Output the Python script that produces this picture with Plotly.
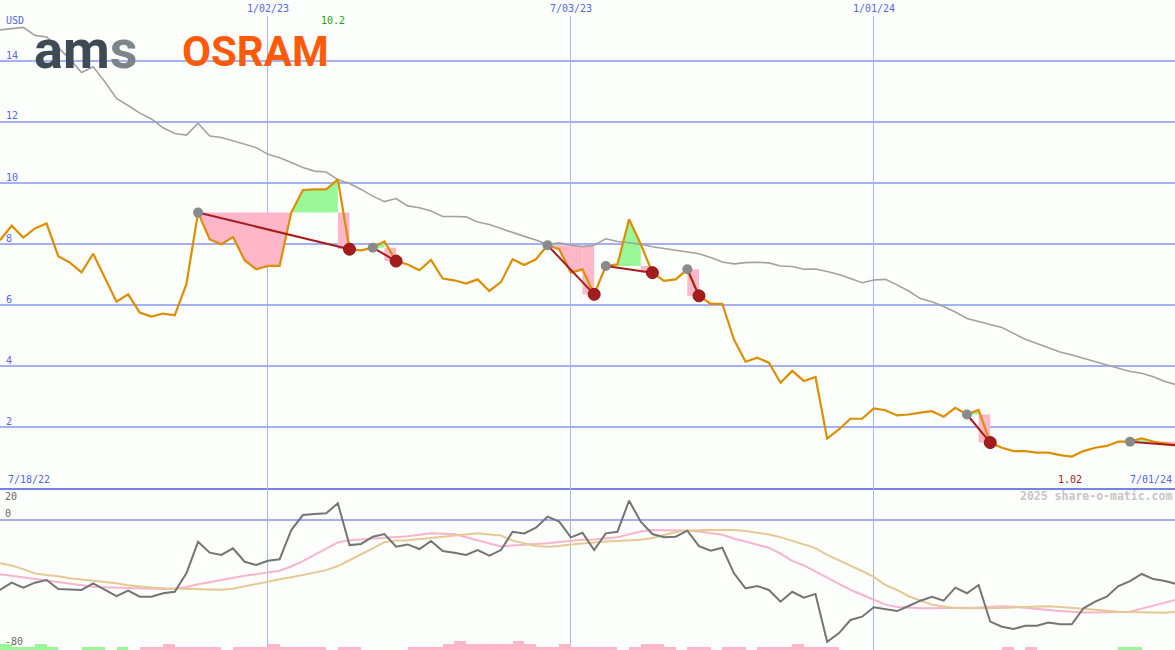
import pandas as pd
import plotly.graph_objects as go

# ---------------- data (weekly) ----------------
price = [8.12, 8.60, 8.21, 8.51, 8.67, 7.60, 7.39, 7.07, 7.68, 6.90,
         6.11, 6.35, 5.75, 5.62, 5.72, 5.66, 6.68, 9.03, 8.15, 7.99,
         8.23, 7.47, 7.17, 7.28, 7.28, 9.03, 9.77, 9.79, 9.79, 10.12,
         7.83, 7.79, 7.88, 8.08, 7.44, 7.33, 7.14, 7.48, 6.87, 6.81,
         6.70, 6.84, 6.46, 6.75, 7.50, 7.31, 7.50, 7.96, 7.83, 7.06,
         7.17, 6.35, 7.28, 7.33, 8.81, 7.99, 7.06, 6.79, 6.84, 7.17,
         6.30, 6.04, 6.04, 4.87, 4.14, 4.27, 4.11, 3.45, 3.84, 3.51,
         3.64, 1.62, 1.92, 2.27, 2.27, 2.61, 2.55, 2.38, 2.41, 2.47,
         2.52, 2.34, 2.63, 2.41, 2.56, 1.49, 1.32, 1.21, 1.21, 1.16,
         1.16, 1.08, 1.03, 1.21, 1.32, 1.38, 1.52, 1.52, 1.63, 1.52,
         1.47, 1.40]

avg40 = [15.02, 15.07, 15.10, 14.84, 14.79, 14.44, 14.06, 13.62, 13.81, 13.32,
         12.77, 12.54, 12.29, 12.10, 11.81, 11.62, 11.57, 11.96, 11.54, 11.49,
         11.38, 11.25, 11.16, 10.94, 10.83, 10.67, 10.51, 10.39, 10.36, 10.11,
         9.98, 9.79, 9.57, 9.39, 9.49, 9.25, 9.19, 9.08, 8.90, 8.90,
         8.89, 8.72, 8.64, 8.51, 8.37, 8.25, 8.13, 7.99, 8.04, 7.96,
         7.91, 7.96, 8.17, 8.08, 8.04, 7.99, 7.91, 7.85, 7.80, 7.75,
         7.68, 7.56, 7.41, 7.35, 7.39, 7.40, 7.38, 7.28, 7.26, 7.17,
         7.18, 7.10, 7.00, 6.87, 6.73, 6.82, 6.84, 6.66, 6.46, 6.21,
         6.11, 5.95, 5.77, 5.56, 5.46, 5.37, 5.26, 5.07, 4.88, 4.74,
         4.60, 4.46, 4.36, 4.25, 4.14, 4.03, 3.92, 3.82, 3.76, 3.65,
         3.49, 3.38]

osc = [-42.4, -38.0, -41.0, -38.0, -36.4, -41.8, -42.1, -42.4, -38.4, -42.4,
       -46.1, -42.8, -46.5, -46.5, -44.4, -43.5, -32.3, -13.2, -19.8, -21.2,
       -17.2, -25.3, -27.3, -24.7, -23.8, -6.1, 3.0, 3.6, 4.1, 10.1,
       -15.2, -14.5, -10.1, -8.5, -16.2, -14.8, -17.6, -12.7, -18.8, -19.8,
       -21.2, -18.2, -21.6, -18.2, -7.1, -8.1, -4.7, 2.0, -1.0, -10.5,
       -7.7, -18.2, -8.1, -7.1, 11.7, -1.0, -8.5, -10.5, -10.1, -6.5,
       -15.8, -18.6, -16.8, -32.3, -41.4, -40.0, -42.4, -49.5, -43.5, -47.1,
       -44.8, -73.8, -68.7, -60.6, -58.6, -52.9, -54.1, -55.2, -52.1, -48.9,
       -46.5, -48.9, -41.0, -44.4, -39.4, -61.6, -64.7, -66.1, -64.1, -64.1,
       -62.2, -63.2, -63.2, -53.5, -49.5, -46.5, -40.0, -37.0, -32.7, -35.8,
       -37.0, -38.8]

osc_fast = [-32.9, -33.8, -34.7, -35.6, -36.7, -37.6, -38.7, -39.6, -40.4, -40.7,
            -41.0, -41.2, -41.4, -41.6, -41.8, -41.6, -40.6, -39.0, -37.6, -36.2,
            -34.8, -33.8, -32.8, -31.8, -30.7, -28.2, -24.9, -21.1, -17.1, -13.6,
            -12.2, -11.7, -11.3, -10.7, -10.5, -9.9, -9.0, -8.1, -8.3, -8.5,
            -10.4, -12.4, -14.4, -16.1, -15.4, -15.0, -14.8, -14.1, -13.3, -12.5,
            -12.0, -11.8, -11.3, -10.4, -8.7, -7.0, -6.1, -6.1, -6.1, -6.3,
            -7.0, -7.9, -8.9, -11.2, -13.1, -14.9, -16.8, -20.4, -24.8, -27.5,
            -31.2, -35.4, -39.0, -42.4, -45.3, -48.2, -51.3, -52.7, -53.2, -53.5,
            -53.5, -53.5, -53.3, -53.2, -53.0, -52.5, -52.2, -52.5, -53.3, -54.0,
            -54.6, -55.2, -55.8, -56.1, -56.0, -55.8, -55.7, -55.6, -53.7, -51.8,
            -49.9, -48.2]

osc_slow = [-26.2, -27.6, -29.8, -32.4, -33.4, -34.1, -35.3, -36.1, -36.7, -37.4,
            -38.4, -39.5, -40.4, -40.9, -41.3, -41.6, -41.8, -41.8, -42.1, -42.3,
            -41.7, -40.2, -38.7, -37.2, -35.9, -34.7, -33.5, -31.9, -30.4, -27.9,
            -24.4, -20.9, -17.2, -13.4, -12.4, -12.2, -11.5, -10.8, -9.9, -9.4,
            -8.8, -8.1, -8.8, -9.4, -12.5, -14.3, -15.8, -16.2, -15.8, -14.8,
            -14.1, -13.3, -13.0, -12.7, -12.2, -11.9, -10.9, -9.2, -7.3, -6.4,
            -6.1, -6.1, -6.1, -6.1, -6.7, -7.6, -8.8, -10.4, -12.5, -14.7,
            -17.0, -21.2, -24.4, -27.4, -30.9, -34.5, -39.4, -42.4, -46.2, -48.8,
            -51.3, -52.4, -53.4, -53.5, -53.5, -53.5, -53.3, -53.0, -52.7, -52.4,
            -52.2, -52.7, -53.1, -53.8, -54.4, -55.2, -55.6, -55.8, -55.9, -56.1,
            -56.2, -55.5]

# signed strength bars (+ green, - pink)
strength = [2, 1, 1, 2, 1, 0, 0, 1, 1, 0,
            1, 0, -1, -1, -2, -1, -1, -1, -1, 0,
            -1, -1, -1, -2, -1, -1, -1, -1, 0, -1,
            -1, 0, 0, 0, 0, -1, -1, -1, -2, -3,
            -2, -2, -2, -2, -3, -2, -1, -1, -2, -1,
            -1, -1, -1, 0, -1, -2, -2, -1, 0, -1,
            -1, 0, -1, -1, 0, -1, -1, -1, -2, -1,
            -1, -1, 0, 0, 0, 0, 0, 0, 0, 0,
            0, 0, 0, 0, 0, 0, -1, 0, -1, 0,
            0, 0, 0, 0, 0, 0, 1, 1, 0, 0,
            0, 0]

sig_start = [17, 32, 47, 52, 59, 83, 97]
sig_end = [30, 34, 51, 56, 60, 85, 101]
sig_closed = [True, True, True, True, True, True, False]

price_ticks = [14, 12, 10, 8, 6, 4, 2]
osc_tick_labels = ["20", "0", "-80"]
date_ticks = ["2023-01-02", "2023-07-03", "2024-01-01"]
date_tick_labels = ["1/02/23", "7/03/23", "1/01/24"]
first_label, last_label = "7/18/22", "7/01/24"
max_label, min_label = "10.2", "1.02"
first_date = "2022-07-25"

# ---------------- styling ----------------
W, H = 1175, 650
BG = "#fbfefb"
GRID = "#a4b0f2"
VGRID = "#aab4f2"
SEP = "#7383ea"
BLUE_TXT = "#5565ec"
PINK = "#ffb6c9"
GREEN = "#98f898"
ORANGE = "#dc8e00"
MA_GRAY = "#a2a2a2"
DARKRED = "#a51c1c"
MONO = "DejaVu Sans Mono"

dates = pd.date_range(first_date, periods=len(price), freq="7D")
px_per_day = 11.65 / 7.0
x0 = pd.Timestamp(first_date)
x1 = x0 + pd.Timedelta(days=W / px_per_day)

top_px, split_px = 16, 488
top_dom = [1 - split_px / H, 1 - top_px / H]
bot_dom = [0, 1 - split_px / H]
ppu = 30.5
top_range = [0, (split_px - top_px) / ppu]
oppu = 1.65
zero_px = 520
bot_range = [-(H - zero_px) / oppu, (zero_px - split_px) / oppu]
bar_range = [0, (H - split_px) / 3.0]

fig = go.Figure()


def closed_poly(xs, ys, base, color):
    fig.add_trace(go.Scatter(
        x=list(xs) + list(xs)[::-1], y=list(ys) + [base] * len(xs),
        fill="toself", fillcolor=color, mode="lines", line=dict(width=0),
        hoverinfo="skip", showlegend=False, xaxis="x", yaxis="y"))


# signal fills
for s, e in zip(sig_start, sig_end):
    L = price[s]
    xs, lo, hi = [dates[s]], [L], [L]
    for j in range(s + 1, e):
        p0, p1 = price[j - 1], price[j]
        if (p0 - L) * (p1 - L) < 0:
            t = (L - p0) / (p1 - p0)
            xs.append(dates[j - 1] + (dates[j] - dates[j - 1]) * t)
            lo.append(L)
            hi.append(L)
        xs.append(dates[j])
        lo.append(min(p1, L))
        hi.append(max(p1, L))
    if len(xs) > 1:
        closed_poly(xs, lo, L, PINK)
        closed_poly(xs, hi, L, GREEN)
    pe = price[e]
    fig.add_trace(go.Scatter(
        x=[dates[e - 1], dates[e], dates[e], dates[e - 1], dates[e - 1]],
        y=[L, L, pe, pe, L], fill="toself",
        fillcolor=PINK if pe < L else GREEN, mode="lines", line=dict(width=0),
        hoverinfo="skip", showlegend=False, xaxis="x", yaxis="y"))

# moving average and price
fig.add_trace(go.Scatter(x=dates, y=avg40, mode="lines",
                         line=dict(color=MA_GRAY, width=1.6),
                         showlegend=False, xaxis="x", yaxis="y"))
fig.add_trace(go.Scatter(x=dates, y=price, mode="lines",
                         line=dict(color=ORANGE, width=2.2),
                         showlegend=False, xaxis="x", yaxis="y"))

# signal lines and dots
for s, e in zip(sig_start, sig_end):
    fig.add_trace(go.Scatter(x=[dates[s], dates[e]], y=[price[s], price[e]],
                             mode="lines", line=dict(color=DARKRED, width=2),
                             showlegend=False, xaxis="x", yaxis="y"))
fig.add_trace(go.Scatter(x=[dates[s] for s in sig_start],
                         y=[price[s] for s in sig_start], mode="markers",
                         marker=dict(color="#8a8a8a", size=10),
                         showlegend=False, xaxis="x", yaxis="y"))
fig.add_trace(go.Scatter(x=[dates[e] for e, c in zip(sig_end, sig_closed) if c],
                         y=[price[e] for e, c in zip(sig_end, sig_closed) if c],
                         mode="markers",
                         marker=dict(color=DARKRED, size=12,
                                     line=dict(color="#8e1414", width=1)),
                         showlegend=False, xaxis="x", yaxis="y"))

# bottom panel
bx = [d + pd.Timedelta(days=3.5) for d in dates]
fig.add_trace(go.Bar(x=bx, y=[abs(v) for v in strength],
                     width=[7 * 86400000] * len(bx),
                     marker=dict(color=[GREEN if v > 0 else PINK for v in strength],
                                 line=dict(width=0)),
                     showlegend=False, xaxis="x2", yaxis="y3"))
fig.add_trace(go.Scatter(x=dates, y=osc_fast, mode="lines",
                         line=dict(color="#f8b4c8", width=2),
                         showlegend=False, xaxis="x2", yaxis="y2"))
fig.add_trace(go.Scatter(x=dates, y=osc_slow, mode="lines",
                         line=dict(color="#e4c995", width=2),
                         showlegend=False, xaxis="x2", yaxis="y2"))
fig.add_trace(go.Scatter(x=dates, y=osc, mode="lines",
                         line=dict(color="#747474", width=2),
                         showlegend=False, xaxis="x2", yaxis="y2"))

xcommon = dict(range=[x0, x1], tickvals=date_ticks, showgrid=True,
               gridcolor=VGRID, gridwidth=1, showticklabels=False, ticks="",
               zeroline=False, fixedrange=True)
fig.update_layout(
    width=W, height=H, margin=dict(l=0, r=0, t=0, b=0),
    paper_bgcolor=BG, plot_bgcolor=BG, showlegend=False, bargap=0,
    xaxis=dict(**xcommon, domain=[0, 1], anchor="y",
               showline=True, linecolor=SEP, linewidth=2),
    xaxis2=dict(**xcommon, domain=[0, 1], anchor="y2", matches="x"),
    yaxis=dict(domain=top_dom, range=top_range, tickvals=price_ticks,
               showgrid=True, gridcolor=GRID, gridwidth=2,
               showticklabels=False, zeroline=False, fixedrange=True),
    yaxis2=dict(domain=bot_dom, range=bot_range, tickvals=[0],
                showgrid=True, gridcolor=GRID, gridwidth=2,
                showticklabels=False, zeroline=False, fixedrange=True),
    yaxis3=dict(domain=bot_dom, range=bar_range, overlaying="y2",
                showgrid=False, showticklabels=False, zeroline=False,
                fixedrange=True),
)

# logo backdrop (hides the grid line under the logo)
try:
    fig.add_shape(type="rect", xref="paper", yref="paper",
                  x0=35 / W, x1=331 / W, y0=1 - 70 / H, y1=1 - 33 / H,
                  fillcolor=BG, line=dict(width=0), layer="between")
except ValueError:
    fig.add_shape(type="rect", xref="paper", yref="paper",
                  x0=35 / W, x1=331 / W, y0=1 - 70 / H, y1=1 - 33 / H,
                  fillcolor=BG, line=dict(width=0), layer="below")


def ann(text, xpx, ypx, color, size=10, xanchor="left", family=MONO, **kw):
    fig.add_annotation(text=text, xref="paper", yref="paper",
                       x=xpx / W, y=1 - ypx / H, xanchor=xanchor,
                       yanchor="middle", showarrow=False,
                       font=dict(family=family, size=size, color=color), **kw)


# logo
ann("<b>am</b><span style='color:#7d858b'><b>s</b></span>", 32, 50,
    "#3e4a54", size=54, family="Roboto")
ann("<b>OSRAM</b>", 180, 51, "#ff5a0a", size=42, family="Roboto")

# axis labels
ann("USD", 4, 21, BLUE_TXT)
for v in price_ticks:
    ann(str(v), 4, split_px - v * ppu - 6, BLUE_TXT)
for lab, ypx in zip(osc_tick_labels, [496, 513, 641]):
    ann(lab, 3, ypx, "#666666")
for d, lab in zip(date_ticks, date_tick_labels):
    xpx = (pd.Timestamp(d) - x0).days * px_per_day
    ann(lab, xpx, 9, BLUE_TXT, xanchor="center")

imax = price.index(max(price))
imin = price.index(min(price))
ann(max_label, (dates[imax] - x0).days * px_per_day - 5, 21, "#22a022",
    xanchor="center")
ann(min_label, (dates[imin] - x0).days * px_per_day - 2, 479, "#a01c1c",
    xanchor="center")
ann(first_label, 6, 479, BLUE_TXT)
ann(last_label, 1174, 479, BLUE_TXT, xanchor="right")
ann("<b>2025 share-o-matic.com</b>", 1174, 496, "#c6c6c6", size=11.5,
    xanchor="right")

fig.write_html("out.html", config={"displayModeBar": False},
               post_script="document.body.style.margin='0px';")
